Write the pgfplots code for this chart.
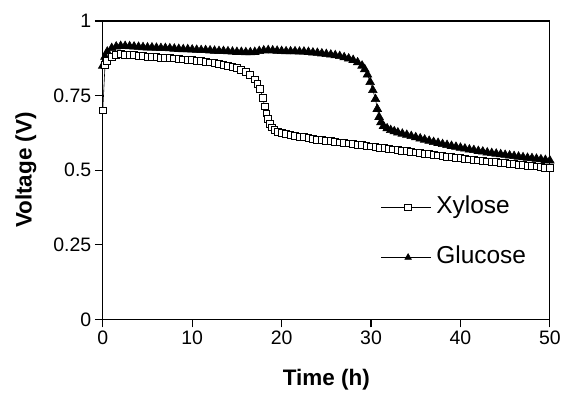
\documentclass[border=0pt]{standalone}
\usepackage{pgfplots}
\pgfplotsset{compat=1.18}
\usetikzlibrary{calc}
\usepackage{fontspec}
\setmainfont{Liberation Sans}
\begin{document}
\begin{tikzpicture}
\begin{axis}[
  name=ax,
  scale only axis,
  width=448pt, height=299pt,
  xmin=0, xmax=50, ymin=0, ymax=1,
  xtick={0,10,20,30,40,50},
  ytick={0,0.25,0.5,0.75,1},
  yticklabels={0,0.25,0.5,0.75,1},
  tick align=outside,
  xtick pos=bottom, ytick pos=left,
  major tick length=8pt,
  axis line style={line width=1.1pt},
  every tick/.style={line width=1.1pt, black},
  /pgf/number format/assume math mode=true,
  tick label style={font=\fontsize{19.5}{23}\selectfont},
  xlabel={Time (h)},
  ylabel={Voltage (V)},
  label style={font=\fontsize{22.5}{26}\selectfont\bfseries},
  xlabel style={at={(axis description cs:0.5,0)}, anchor=base, yshift=-66.7pt},
  ylabel style={at={(axis description cs:-0.172,0.5)}, anchor=center},
  clip=false,
  reverse legend,
  legend cell align=left,
  legend style={draw=none, fill=none, inner sep=0pt, outer sep=0pt,
    at={(axis cs:31.1,0.291)}, anchor=west,
    font=\fontsize{24.5}{28}\selectfont,
    nodes={inner sep=0pt, text height=17pt, text depth=5pt},
    cells={anchor=west},
    row sep=28pt, column sep=5pt},
  legend image code/.code={
    \draw[#1, mark=none] (0pt,0pt) -- (50pt,0pt);
    \draw[#1, only marks] plot coordinates {(27pt,0pt)};
  },
]
\addplot[black, line width=0.6pt, mark=triangle*, mark size=5pt,
  mark options={fill=black, solid},
  legend image post style={mark size=3.8pt}] coordinates {
(0,0.850) (0.25,0.880) (0.5,0.897) (1.0,0.909) (1.5,0.914) (2.0,0.916)
(2.5,0.916) (3.0,0.915) (3.5,0.914) (4.0,0.913) (4.5,0.912) (5.0,0.911)
(5.5,0.911) (6.0,0.910) (6.5,0.909) (7.0,0.909) (7.5,0.908) (8.0,0.907)
(8.5,0.906) (9.0,0.905) (9.5,0.905) (10.0,0.904) (10.5,0.903) (11.0,0.902)
(11.5,0.902) (12.0,0.901) (12.5,0.900) (13.0,0.899) (13.5,0.899) (14.0,0.898)
(14.5,0.897) (15.0,0.896) (15.5,0.896) (16.0,0.895) (16.5,0.895) (17.0,0.896)
(17.5,0.899) (18.0,0.901) (18.5,0.902) (19.0,0.901) (19.5,0.900) (20.0,0.899)
(20.5,0.898) (21.0,0.898) (21.5,0.898) (22.0,0.897) (22.5,0.897) (23.0,0.896)
(23.5,0.894) (24.0,0.893) (24.5,0.891) (25.0,0.889) (25.5,0.887) (26.0,0.885)
(26.5,0.882) (27.0,0.878) (27.5,0.874) (28.0,0.869) (28.5,0.861) (29.0,0.850)
(29.3,0.838) (29.6,0.820) (29.9,0.795) (30.2,0.768) (30.5,0.738) (30.7,0.705)
(30.9,0.678) (31.1,0.660) (31.4,0.648) (31.8,0.640) (32.2,0.634) (32.6,0.630)
(33.0,0.626) (33.5,0.622) (34.0,0.618) (34.5,0.614) (35.0,0.610) (35.5,0.606)
(36.0,0.602) (36.5,0.598) (37.0,0.594) (37.5,0.591) (38.0,0.587) (38.5,0.584)
(39.0,0.581) (39.5,0.578) (40.0,0.575) (40.5,0.572) (41.0,0.569) (41.5,0.567)
(42.0,0.564) (42.5,0.562) (43.0,0.559) (43.5,0.557) (44.0,0.555) (44.5,0.553)
(45.0,0.551) (45.5,0.549) (46.0,0.547) (46.5,0.545) (47.0,0.543) (47.5,0.541)
(48.0,0.540) (48.5,0.538) (49.0,0.536) (49.5,0.534) (50.0,0.532)
};
\addlegendentry{Glucose}
\addplot[black, line width=0.6pt, mark=square*, mark size=3.4pt,
  mark options={fill=white, solid, line width=1pt}] coordinates {
(0,0.700) (0.25,0.853) (0.5,0.866) (1.0,0.879) (1.5,0.885) (2.0,0.888)
(2.5,0.887) (3.0,0.886) (3.5,0.885) (4.0,0.883) (4.5,0.882) (5.0,0.880)
(5.5,0.879) (6.0,0.878) (6.5,0.877) (7.0,0.876) (7.5,0.875) (8.0,0.874)
(8.5,0.872) (9.0,0.871) (9.5,0.869) (10.0,0.868) (10.5,0.866) (11.0,0.865)
(11.5,0.863) (12.0,0.861) (12.5,0.858) (13.0,0.856) (13.5,0.853) (14.0,0.850)
(14.5,0.846) (15.0,0.842) (15.5,0.836) (16.0,0.828) (16.5,0.818) (17.0,0.804)
(17.3,0.790) (17.6,0.772) (17.9,0.742) (18.1,0.713) (18.3,0.690) (18.5,0.672)
(18.7,0.655) (18.9,0.643) (19.2,0.635) (19.6,0.628) (20.0,0.624) (20.5,0.620)
(21.0,0.617) (21.5,0.615) (22.0,0.612) (22.5,0.610) (23.0,0.607) (23.5,0.605)
(24.0,0.602) (24.5,0.600) (25.0,0.598) (25.5,0.597) (26.0,0.595) (26.5,0.593)
(27.0,0.591) (27.5,0.589) (28.0,0.587) (28.5,0.585) (29.0,0.583) (29.5,0.581)
(30.0,0.579) (30.5,0.577) (31.0,0.575) (31.5,0.573) (32.0,0.571) (32.5,0.569)
(33.0,0.567) (33.5,0.565) (34.0,0.563) (34.5,0.561) (35.0,0.559) (35.5,0.557)
(36.0,0.555) (36.5,0.553) (37.0,0.551) (37.5,0.549) (38.0,0.547) (38.5,0.545)
(39.0,0.543) (39.5,0.541) (40.0,0.540) (40.5,0.538) (41.0,0.536) (41.5,0.534)
(42.0,0.532) (42.5,0.530) (43.0,0.529) (43.5,0.527) (44.0,0.526) (44.5,0.524)
(45.0,0.523) (45.5,0.521) (46.0,0.520) (46.5,0.518) (47.0,0.517) (47.5,0.515)
(48.0,0.513) (48.5,0.512) (49.0,0.510) (49.5,0.508) (50.0,0.506)
};
\addlegendentry{Xylose}
\end{axis}
\path ($(ax.south west)+(-103pt,-72pt)$) rectangle ($(ax.north east)+(13pt,21pt)$);
\end{tikzpicture}
\end{document}
